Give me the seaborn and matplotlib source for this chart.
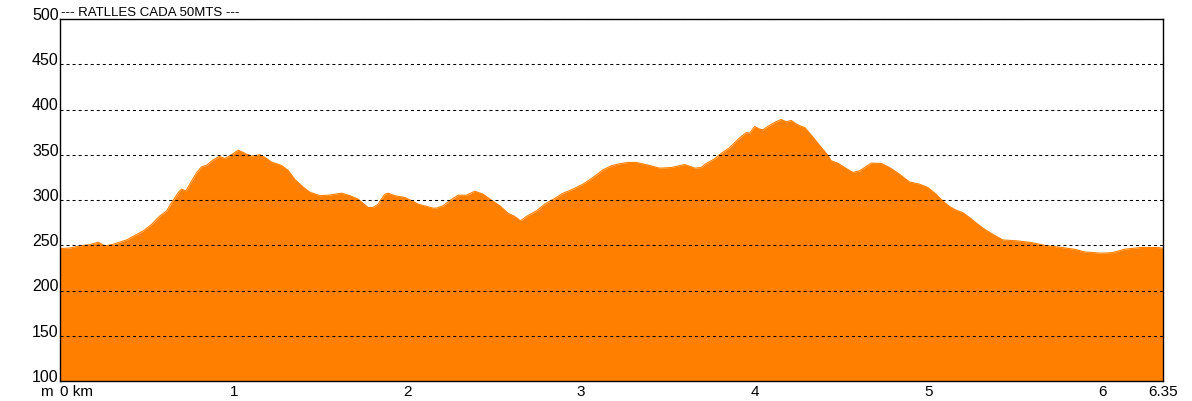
import pandas as pd
import seaborn as sns
import matplotlib.pyplot as plt

# elevation profile (distance in km, elevation in m)
dist_km = [0.000, 0.058, 0.115, 0.173, 0.220, 0.259, 0.307, 0.384, 0.432, 0.479,
           0.528, 0.575, 0.614, 0.643, 0.681, 0.700, 0.725, 0.758, 0.787, 0.815,
           0.844, 0.882, 0.917, 0.949, 0.978, 1.026, 1.074, 1.103, 1.151, 1.180,
           1.218, 1.276, 1.314, 1.352, 1.400, 1.438, 1.496, 1.544, 1.621, 1.669,
           1.716, 1.774, 1.803, 1.831, 1.870, 1.889, 1.927, 1.985, 2.024, 2.062,
           2.110, 2.148, 2.167, 2.205, 2.244, 2.292, 2.340, 2.388, 2.436, 2.484,
           2.532, 2.579, 2.618, 2.651, 2.685, 2.743, 2.790, 2.848, 2.896, 2.953,
           3.011, 3.068, 3.126, 3.174, 3.212, 3.270, 3.318, 3.385, 3.452, 3.520,
           3.596, 3.654, 3.692, 3.711, 3.769, 3.807, 3.855, 3.903, 3.951, 3.970,
           3.999, 4.028, 4.047, 4.075, 4.114, 4.152, 4.181, 4.210, 4.239, 4.268,
           4.287, 4.344, 4.383, 4.420, 4.440, 4.478, 4.526, 4.565, 4.603, 4.641,
           4.670, 4.728, 4.775, 4.833, 4.890, 4.948, 4.996, 5.044, 5.082, 5.121,
           5.159, 5.197, 5.236, 5.284, 5.322, 5.380, 5.427, 5.514, 5.591, 5.667,
           5.764, 5.840, 5.898, 5.994, 6.060, 6.128, 6.222, 6.318, 6.350]
elev_m = [246.3, 247.0, 249.2, 250.8, 253.3, 249.2, 251.1, 255.9, 261.0, 265.8,
          273.2, 282.4, 288.0, 297.2, 308.3, 312.0, 310.0, 321.1, 330.4, 336.6,
          338.5, 344.4, 348.1, 345.9, 348.8, 355.1, 350.7, 348.5, 350.0, 347.0,
          341.9, 338.1, 332.6, 322.7, 314.2, 308.6, 304.8, 305.3, 307.5, 304.8,
          300.9, 291.7, 291.7, 295.4, 306.4, 307.5, 304.8, 302.8, 299.3, 295.4,
          292.9, 291.0, 291.0, 293.6, 299.3, 305.3, 305.3, 309.7, 306.4, 299.8,
          293.6, 285.4, 281.8, 277.0, 281.8, 288.0, 295.4, 301.7, 307.5, 312.0,
          317.5, 324.9, 333.3, 337.8, 339.7, 341.5, 341.5, 338.5, 335.2, 335.9,
          339.2, 335.2, 335.9, 339.2, 345.6, 351.5, 357.9, 367.0, 374.6, 373.8,
          381.3, 378.3, 377.6, 381.3, 385.7, 389.0, 386.4, 387.9, 383.9, 381.3,
          380.2, 367.3, 358.0, 349.6, 343.3, 340.7, 334.8, 330.4, 332.2, 337.1,
          340.7, 340.4, 336.0, 328.5, 320.0, 317.5, 313.8, 306.4, 299.0, 292.8,
          288.7, 286.1, 280.6, 273.2, 267.7, 261.0, 255.9, 254.8, 253.0, 250.0,
          247.5, 245.6, 242.6, 241.2, 241.9, 245.6, 247.5, 247.5, 246.7]

x_ticks = [0, 1, 2, 3, 4, 5, 6, 6.35]
x_labels = ["0 km", "1", "2", "3", "4", "5", "6", "6.35"]
y_ticks = [100, 150, 200, 250, 300, 350, 400, 450, 500]

profile = pd.DataFrame({"km": dist_km, "m": elev_m})

sns.set_style("white", {"text.color": "black", "xtick.color": "black",
                        "ytick.color": "black", "axes.labelcolor": "black"})
plt.rcParams['font.family'] = ['Liberation Sans', 'DejaVu Sans']

fig = plt.figure(figsize=(11.92, 4.02), dpi=100)
ax = fig.add_axes([60 / 1192, 1 - 382 / 402, 1103 / 1192, 362 / 402])

orange = "#FF8000"
ax.fill_between(profile["km"], 100, profile["m"], color=orange, linewidth=0,
                antialiased=False, zorder=1)
sns.lineplot(data=profile, x="km", y="m", color=orange, linewidth=0.8, ax=ax, zorder=1)

ax.set_xlim(0, 6.35)
ax.set_ylim(100, 500)

# dashed horizontal grid over the fill
ax.set_axisbelow(False)
ax.yaxis.grid(True, color="black", linestyle=(0, (2.9, 2.9)), linewidth=0.75, zorder=3)
ax.xaxis.grid(False)

ax.set_yticks(y_ticks)
ax.set_yticklabels([str(v) for v in y_ticks], fontsize=11.5, color="black")
for lab in ax.get_yticklabels():
    lab.set_verticalalignment("baseline")
ax.tick_params(axis="y", length=0, pad=1)

ax.set_xticks(x_ticks)
ax.set_xticklabels(x_labels, fontsize=11, color="black")
ax.get_xticklabels()[0].set_horizontalalignment("left")
ax.tick_params(axis="x", direction="in", length=2.5, width=0.8, pad=2, color="black")

for sp in ax.spines.values():
    sp.set_visible(True)
    sp.set_color("black")
    sp.set_linewidth(1.0)
    sp.set_zorder(4)

ax.set_xlabel("")
ax.set_ylabel("")

ax.annotate("--- RATLLES CADA 50MTS ---", xy=(0, 1), xycoords="axes fraction",
            xytext=(0.5, 3), textcoords="offset points", va="baseline", ha="left",
            fontsize=9.5, color="black")
ax.annotate("m", xy=(0, 0), xycoords="axes fraction", xytext=(-5, -2),
            textcoords="offset points", va="top", ha="right", fontsize=11,
            color="black")

fig.savefig("out.png", dpi=100)
